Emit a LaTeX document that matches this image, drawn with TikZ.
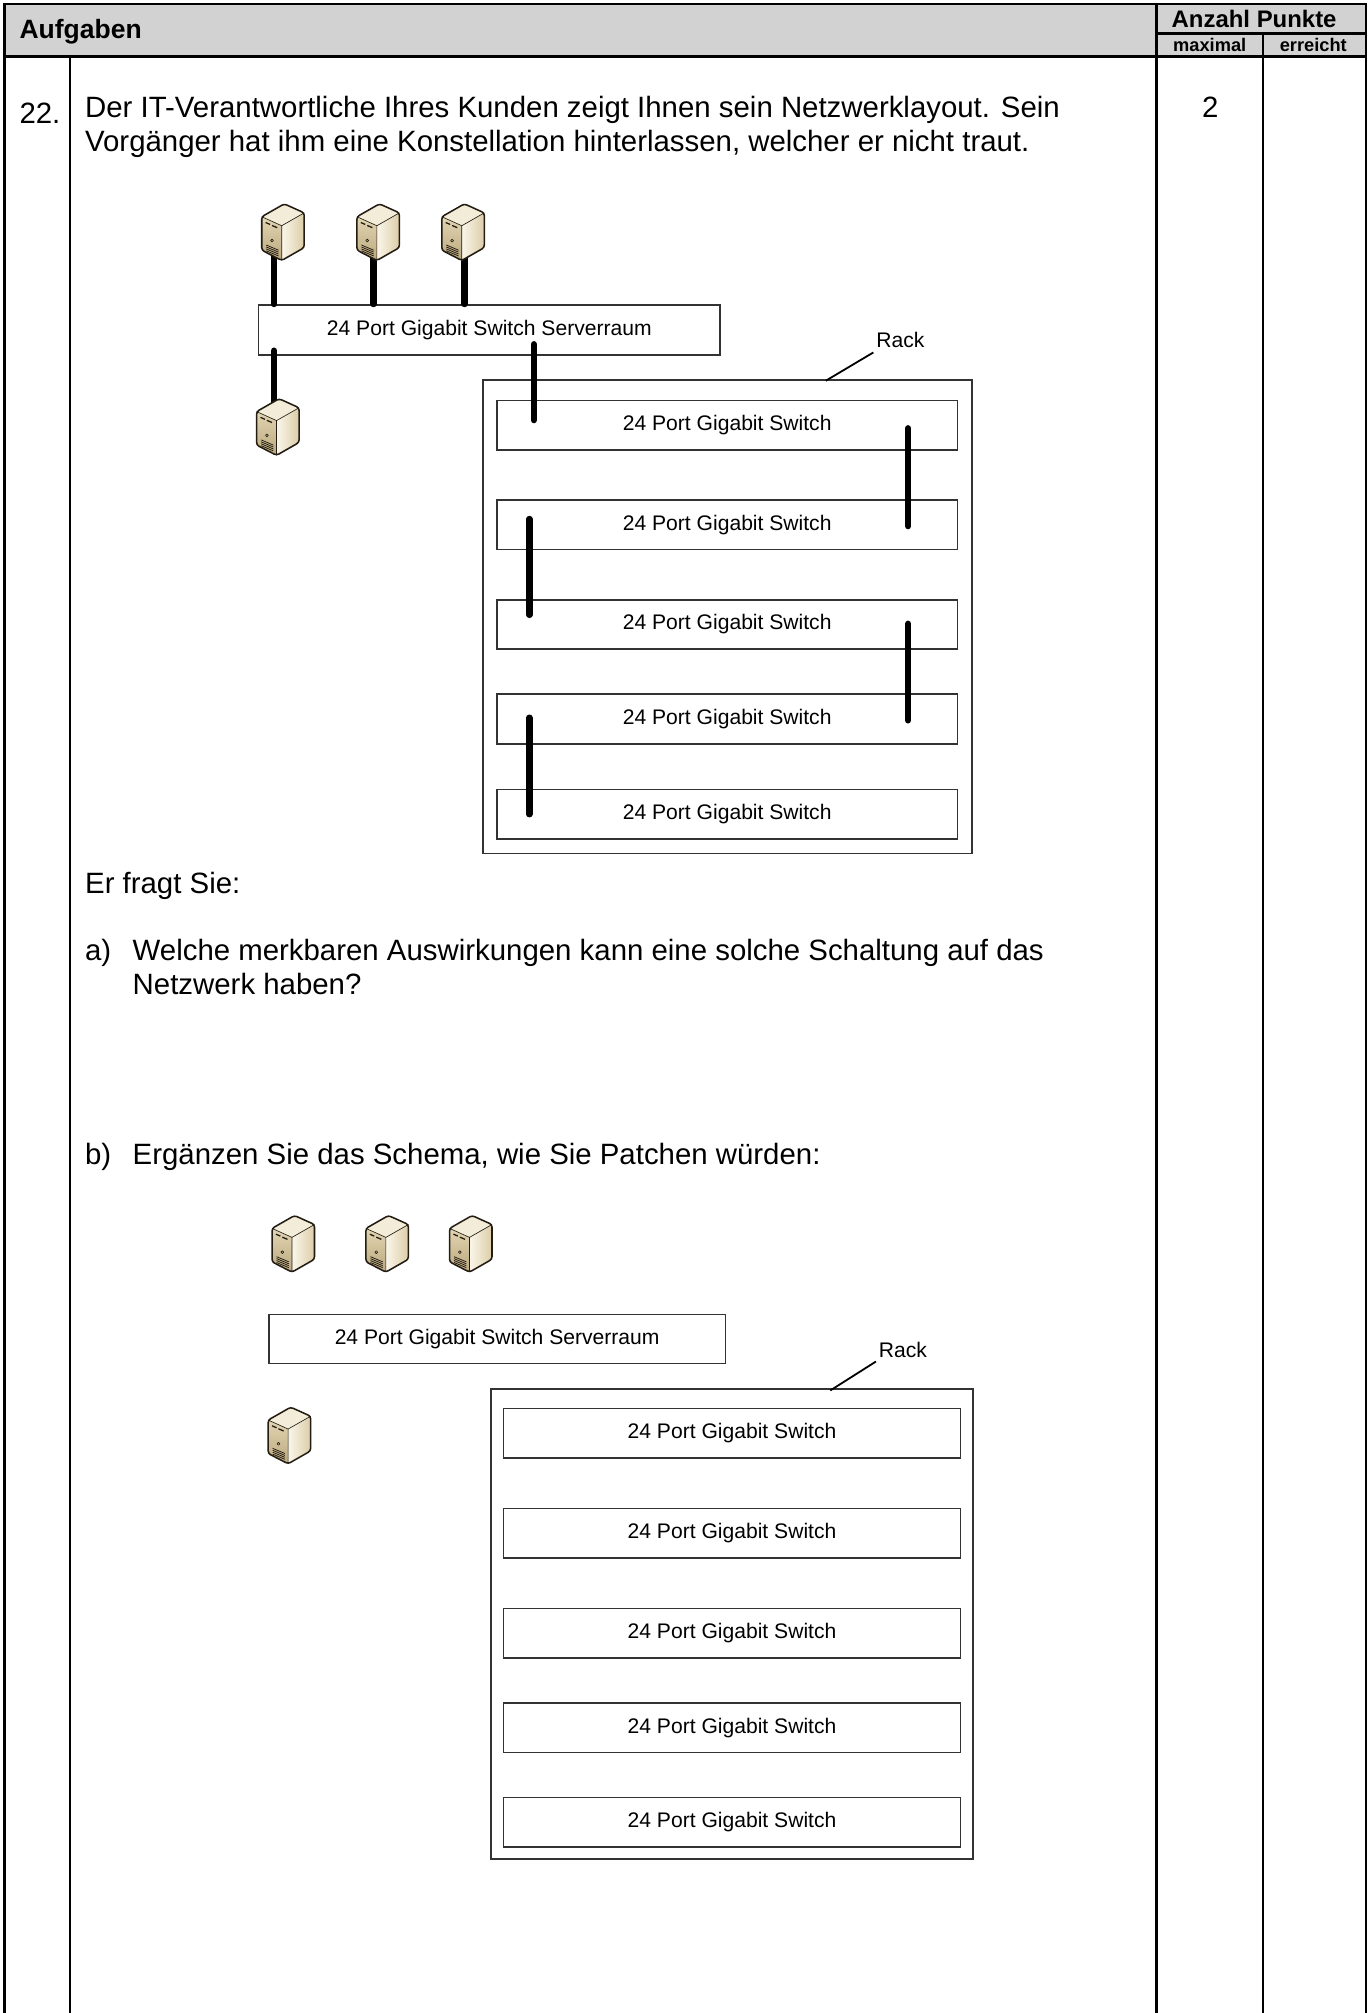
\documentclass[tikz,border=0pt]{standalone}
\usepackage{fontspec}
\setmainfont{Liberation Sans}
\usetikzlibrary{calc}
\definecolor{hdr}{HTML}{D2D2D2}
\definecolor{srvline}{HTML}{221C12}
\definecolor{srvtop}{HTML}{F3ECD8}
\definecolor{srvsideA}{HTML}{FAF6EA}
\definecolor{srvsideB}{HTML}{DCCDA8}
\definecolor{srvfrontA}{HTML}{E2D5B3}
\definecolor{srvfrontB}{HTML}{BBA87D}
\tikzset{
  body/.style={anchor=base west, inner sep=0pt, font=\fontsize{22.85}{26.5}\selectfont},
  swbox/.style={draw=black!80, line width=1.3pt, fill=white, inner sep=0pt, font=\fontsize{16.4}{19}\selectfont},
  lbl/.style={inner sep=0pt, anchor=base, font=\fontsize{16.4}{19}\selectfont},
  cable/.style={line width=5pt, line cap=round, black},
  tline/.style={line width=1.8pt, black},
  srvnode/.style={minimum width=33pt, minimum height=44pt, inner sep=0pt},
  server/.pic={
    \begin{scope}[line join=round]
      \path[left color=srvsideA, right color=srvsideB] (-1,-5) -- (16.5,-15) -- (16.5,12) -- (-1,22) -- cycle;
      \path[top color=srvfrontA, bottom color=srvfrontB] (-16.5,-12) -- (-1,-5) -- (-1,22) -- (-16.5,14) -- cycle;
      \path[fill=srvtop] (-16.5,-12) -- (-1,-5) -- (16.5,-15) -- (1,-22) -- cycle;
      \draw[srvline, line width=1pt] (-13.5,-7.5) -- (-10,-6) (-8.5,-5.2) -- (-4.5,-3.5);
      \draw[srvline, line width=0.5pt] (-8.5,6.5) circle (1.1);
      \foreach \k in {0,1.5,3,4.5} {\draw[srvline, line width=0.6pt] (-13,10+\k) -- (-3.5,14+\k);}
      \draw[srvline, line width=0.5pt] (-16.5,-12) -- (-1,-5) -- (16.5,-15) (-1,-5) -- (-1,22);
      \draw[srvline, line width=1.2pt, rounded corners=2pt] (-16.5,-12) -- (1,-22) -- (16.5,-15) -- (16.5,12) -- (-1,22) -- (-16.5,14) -- cycle;
    \end{scope}
  }
}
\begin{document}
\begin{tikzpicture}[x=1pt,y=-1pt]
\useasboundingbox (0,0) rectangle (1065,1565);
% ---------- table ----------
\fill[hdr] (3.5,3) rectangle (1062,44);
\draw[tline] (3.5,1565) -- (3.5,3) -- (1062,3) -- (1062,1565);
\draw[tline] (3.5,44) -- (1062,44);
\draw[tline] (54.5,44) -- (54.5,1565);
\draw[tline] (899,3) -- (899,1565);
\draw[tline] (982,26) -- (982,1565);
\draw[tline] (899,26) -- (1062,26);
\node[inner sep=0pt, anchor=base west, font=\bfseries\fontsize{20.6}{24}\selectfont] (aufg) at (15,30) {Aufgaben};
\node[inner sep=0pt, anchor=base, font=\bfseries\fontsize{18.6}{22}\selectfont] (anz) at (975,21) {Anzahl Punkte};
\node[inner sep=0pt, anchor=base, font=\bfseries\fontsize{14.2}{16}\selectfont] (maxi) at (940.5,40) {maximal};
\node[inner sep=0pt, anchor=base, font=\bfseries\fontsize{14.2}{16}\selectfont] (erre) at (1021,40) {erreicht};
% ---------- texts ----------
\node[body] (nr) at (15,96) {22.};
\node[inner sep=0pt, anchor=base, font=\fontsize{22.85}{26.5}\selectfont] (pts) at (941,91) {2};
\node[body] (t1) at (66,91) {Der IT-Verantwortliche Ihres Kunden zeigt Ihnen sein Netzwerklayout. Sein};
\node[body] (t2) at (66,117.5) {Vorgänger hat ihm eine Konstellation hinterlassen, welcher er nicht traut.};
\node[body] (t3) at (66,695) {Er fragt Sie:};
\node[body] (qa) at (66,747) {a)};
\node[body] (ta1) at (103,747) {Welche merkbaren Auswirkungen kann eine solche Schaltung auf das};
\node[body] (ta2) at (103,773) {Netzwerk haben?};
\node[body] (qb) at (66,905) {b)};
\node[body] (tb1) at (103,905) {Ergänzen Sie das Schema, wie Sie Patchen würden:};
% ---------- top diagram ----------
\node[swbox, minimum width=379.8pt, minimum height=368pt, fill=none] (rackA) at (565.6,479.6) {};
\node[swbox, minimum width=358.7pt, minimum height=39pt] (srvA) at (380.4,256.5) {24 Port Gigabit Switch Serverraum};
\foreach \i/\y in {1/330.5,2/408,3/485.5,4/559,5/633}
  \node[swbox, minimum width=358.3pt, minimum height=38.5pt] (a\i) at (565.35,\y) {24 Port Gigabit Switch};
\node[lbl] (rkA) at (700,270) {Rack};
\coordinate (rkA1) at (642,296);
\coordinate (rkA2) at (679,274);
\draw[line width=1.4pt] (rkA1) -- (rkA2);
\node[srvnode] (s1) at (220,180.5) {};
\node[srvnode] (s2) at (294,180.5) {};
\node[srvnode] (s3) at (360,180.5) {};
\node[srvnode] (s4) at (216,332) {};
\coordinate (ax1) at (415,0);
\coordinate (ax2) at (706,0);
\coordinate (ax3) at (411.5,0);
\draw[cable] ($(s1.center)+(-7,0)$) -- ($(s1.center |- srvA.north)+(-7,0)$);
\draw[cable] ($(s2.center)+(-3.5,0)$) -- ($(s2.center |- srvA.north)+(-3.5,0)$);
\draw[cable] ($(s3.center)+(1,0)$) -- ($(s3.center |- srvA.north)+(1,0)$);
\draw[cable] ($(s4.center)+(-3,0)$) -- ($(s4.center |- srvA.south)+(-3,-4)$);
\draw[cable] ($(srvA.south -| ax1)+(0,-9)$) -- ($(a1.north -| ax1)+(0,16)$);
\draw[cable] ($(a1.center -| ax2)+(0,2.5)$) -- ($(a2.center -| ax2)+(0,1)$);
\draw[cable] ($(a2.center -| ax3)+(0,-4.5)$) -- ($(a3.center -| ax3)+(0,-7.5)$);
\draw[cable] ($(a3.center -| ax2)+(0,-0.5)$) -- ($(a4.center -| ax2)+(0,1)$);
\draw[cable] ($(a4.center -| ax3)+(0,-1)$) -- ($(a5.center -| ax3)+(0,0)$);
\foreach \s in {s1,s2,s3,s4} \pic at (\s.center) {server};
% ---------- bottom diagram ----------
\node[swbox, minimum width=375.2pt, minimum height=365pt, fill=none] (rackB) at (569.1,1262.5) {};
\node[swbox, minimum width=355pt, minimum height=38pt] (srvB) at (386.5,1041) {24 Port Gigabit Switch Serverraum};
\foreach \i/\y in {1/1114.3,2/1192,3/1269.7,4/1343.3,5/1416.8}
  \node[swbox, minimum width=355.2pt, minimum height=38.5pt] (b\i) at (569.1,\y) {24 Port Gigabit Switch};
\node[lbl] (rkB) at (702,1055) {Rack};
\coordinate (rkB1) at (645.5,1081);
\coordinate (rkB2) at (681,1058.5);
\draw[line width=1.4pt] (rkB1) -- (rkB2);
\node[srvnode] (s5) at (228,967) {};
\node[srvnode] (s6) at (301,967) {};
\node[srvnode] (s7) at (366,967) {};
\node[srvnode] (s8) at (225,1116) {};
\foreach \s in {s5,s6,s7,s8} \pic at (\s.center) {server};
\end{tikzpicture}
\end{document}
